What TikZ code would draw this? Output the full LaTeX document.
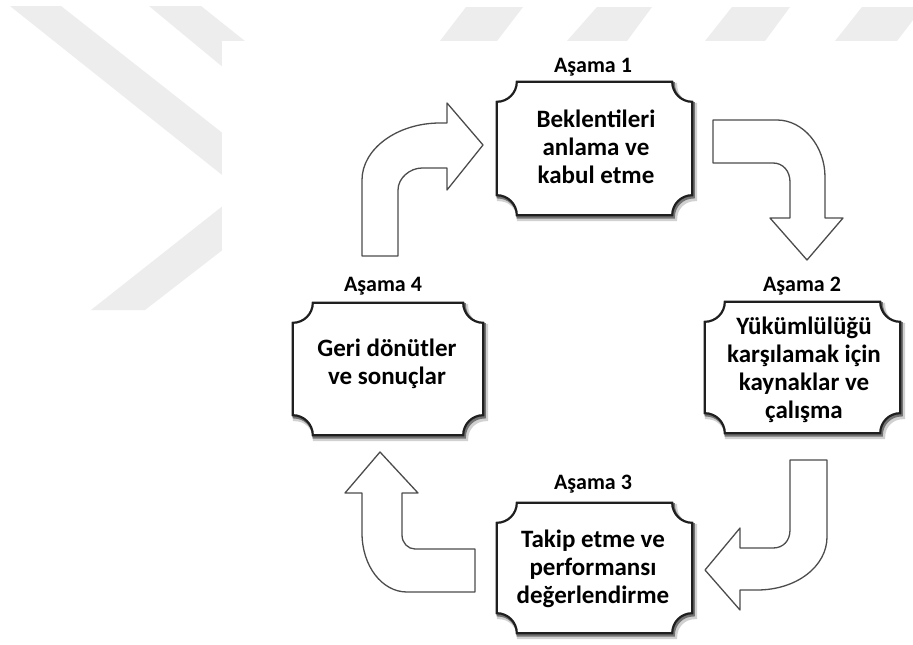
\documentclass[tikz,border=0pt]{standalone}
\usepackage{fontspec}
\setmainfont{Carlito}
\usetikzlibrary{calc}
\newcommand\plqr{20pt}
\newcommand\plqdraw[2]{%
  \path[#2] ([xshift=\plqr]#1.north west) -- ([xshift=-\plqr]#1.north east)
    arc[start angle=180,end angle=270,radius=\plqr]
    -- ([yshift=\plqr]#1.south east)
    arc[start angle=90,end angle=180,radius=\plqr]
    -- ([xshift=\plqr]#1.south west)
    arc[start angle=0,end angle=90,radius=\plqr]
    -- ([yshift=-\plqr]#1.north west)
    arc[start angle=270,end angle=360,radius=\plqr] -- cycle;}
\begin{document}
\begin{tikzpicture}[x=1pt,y=-1pt,
  wm/.style={fill=black!7,draw=none},
  blockarrow/.style={draw=black!70,fill=white,line width=1.3pt,line join=round},
  boxline/.style={draw=black!88,fill=white,line width=2.2pt},
  shadowA/.style={draw=black!18,line width=5pt},
  shadowB/.style={draw=black!55,line width=3pt},
  plaquebox/.style={inner sep=0pt,draw=none},
  lbl/.style={font=\fontsize{22}{26}\selectfont\bfseries,inner sep=0pt},
  txt/.style={font=\fontsize{25}{28}\selectfont\bfseries,align=center,inner sep=0pt}
]
\useasboundingbox (0,0) rectangle (913,645);
\fill[white] (0,0) rectangle (913,645);
% faint background watermark
\fill[wm] (10,6) -- (61,6) -- (300,194) -- (300,237) -- cycle;
\fill[wm] (149,6) -- (201,6) -- (300,85) -- (300,131) -- cycle;
\fill[wm] (91,310) -- (145,310) -- (300,190) -- (300,145) -- cycle;
\fill[wm] (440,41) -- (497,41) -- (523,7) -- (466,7) -- cycle;
\fill[wm] (567,41) -- (627,41) -- (652,7) -- (597,7) -- cycle;
\fill[wm] (705,41) -- (765,41) -- (790,7) -- (732,7) -- cycle;
\fill[wm] (835,41) -- (897,41) -- (923,7) -- (862,7) -- cycle;
\fill[white] (222,41) rectangle (913,645);

% boxes
\node[plaquebox,minimum width=195pt,minimum height=133pt] (b1) at (594.5,148.5) {};
\node[plaquebox,minimum width=195pt,minimum height=131pt] (b2) at (802.5,367.5) {};
\node[plaquebox,minimum width=195pt,minimum height=130pt] (b3) at (594.5,568) {};
\node[plaquebox,minimum width=190pt,minimum height=132pt] (b4) at (388,369) {};

\foreach \b in {b1,b2,b3,b4}{
  \begin{scope}[transform canvas={xshift=2.5pt,yshift=-3.5pt}]
    \plqdraw{\b}{shadowA}
  \end{scope}
  \begin{scope}[transform canvas={xshift=1.2pt,yshift=-1.8pt}]
    \plqdraw{\b}{shadowB}
  \end{scope}
  \plqdraw{\b}{boxline}
}

% texts
\node[lbl] (l1) at (593,67) {Aşama 1};
\node[lbl] (l2) at (802,286) {Aşama 2};
\node[lbl] (l3) at (593,484) {Aşama 3};
\node[lbl] (l4) at (383,286) {Aşama 4};

\node[txt] (t1) at (596,147) {Beklentileri\\anlama ve\\kabul etme};
\node[txt] (t2) at (804,370) {Yükümlülüğü\\karşılamak için\\kaynaklar ve\\çalışma};
\node[txt] (t3) at (593,569) {Takip etme ve\\performansı\\değerlendirme};
\node[txt] (t4) at (387,364) {Geri dönütler\\ve sonuçlar};

% block arrows
\draw[blockarrow] (362,256) -- (362,180) .. controls (362,149) and (397,123) .. (440,123)
  -- (447,123) -- (447,103) -- (483,145) -- (447,190) -- (447,168) -- (422,168)
  .. controls (410,168) and (398,178) .. (398,190) -- (398,256) -- cycle;
\draw[blockarrow] (713,120) -- (777,120) .. controls (803,120) and (825,146) .. (825,177)
  -- (825,218) -- (843,218) -- (807,260) -- (770,218) -- (790,218) -- (790,182)
  .. controls (790,171) and (783,163) .. (773,163) -- (713,163) -- cycle;
\draw[blockarrow] (790,460) -- (827,460) -- (827,537) .. controls (827,566) and (797,590) .. (757,590)
  -- (740,590) -- (740,610) -- (705,570) -- (740,528) -- (740,548) -- (773,548)
  .. controls (783,548) and (790,541) .. (790,530) -- cycle;
\draw[blockarrow] (380,452) -- (418,493) -- (402,493) -- (402,535)
  .. controls (402,543) and (408,549) .. (415,549) -- (475,549) -- (475,592) -- (407,592)
  .. controls (382,592) and (362,566) .. (362,533) -- (362,493) -- (345,493) -- cycle;
\end{tikzpicture}
\end{document}
